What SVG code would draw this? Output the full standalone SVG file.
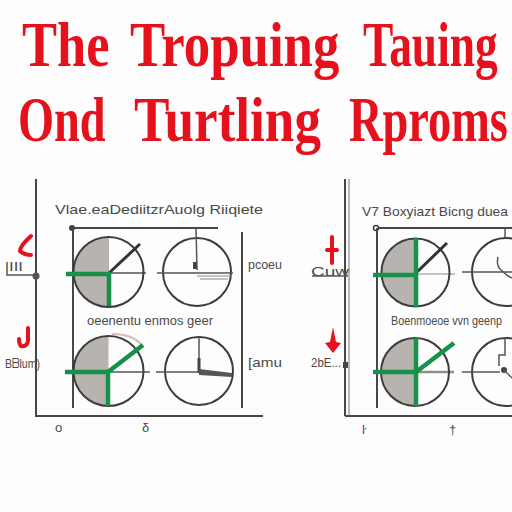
<svg xmlns="http://www.w3.org/2000/svg" width="512" height="512" viewBox="0 0 512 512">
<style>
.title{font-family:"Liberation Serif",serif;font-weight:bold;fill:#e5121d;font-size:64px}
.lbl{font-family:"Liberation Sans Narrow","Liberation Sans",sans-serif;fill:#4a4a4a;font-size:13px}
.ax{stroke:#474747;stroke-width:2;fill:none}
.thin{stroke:#555;stroke-width:1.5;fill:none}
.lt{stroke:#8a8a8a;stroke-width:1.2;fill:none}
.circ{fill:none;stroke:#3c3c3c;stroke-width:2}
.shade{fill:#b7b3ae}
.green{stroke:#17904a;stroke-width:4.5;fill:none}
.hand{stroke:#333;stroke-width:3;fill:none}
.red{stroke:#e5121d;fill:none;stroke-width:4;stroke-linecap:round}
</style>
<rect width="512" height="512" fill="#fdfdfd"/>
<g id="title">
<text class="title" transform="translate(22,66) scale(0.82,1)">The</text>
<text class="title" transform="translate(130,66) scale(0.825,1)">Tropuing</text>
<text class="title" transform="translate(363,66) scale(0.71,1)">Tauing</text>
<text class="title" transform="translate(18,141) scale(0.725,1)">Ond</text>
<text class="title" transform="translate(134,141) scale(0.83,1)">Turtling</text>
<text class="title" transform="translate(349,141) scale(0.725,1)">Rproms</text>
</g>
<g id="left-panel">
<line class="ax" x1="36" y1="179" x2="36" y2="416"/>
<line class="ax" x1="35" y1="416" x2="263" y2="416"/>
<circle cx="36" cy="276" r="3.5" fill="#555"/>
<path class="thin" d="M7,262 V275 H36"/>
<text class="lbl" x="9" y="271" font-size="11" textLength="14" lengthAdjust="spacingAndGlyphs">III</text>
<path class="red" d="M31,236 Q20,246 20,251 Q24,255 31,255" stroke-width="3.5"/>
<path class="red" d="M28,328 V341 Q27,347 21,346 Q19,344 19,339"/>
<text class="lbl" x="5" y="368" textLength="35" lengthAdjust="spacingAndGlyphs">Bᗷlum)</text>
<line class="ax" x1="72" y1="228" x2="218" y2="228"/>
<circle cx="72" cy="228" r="3" fill="#444"/>
<line class="ax" x1="73" y1="228" x2="73" y2="408"/>
<line class="ax" x1="242" y1="232" x2="242" y2="408"/>
<text class="lbl" x="55" y="214" font-size="14" textLength="208" lengthAdjust="spacingAndGlyphs">Vlae.eaDediitzrAuolg Riiqiete</text>
<text class="lbl" x="87" y="325" textLength="126" lengthAdjust="spacingAndGlyphs">oeenentu enmos geer</text>
<text class="lbl" x="248" y="269" textLength="34" lengthAdjust="spacingAndGlyphs">pcoeu</text>
<text class="lbl" x="248" y="367" textLength="34" lengthAdjust="spacingAndGlyphs">[amu</text>
<text class="lbl" x="55" y="432" font-size="15">o</text>
<text class="lbl" x="142" y="432" font-size="15">δ</text>
</g>
<g id="clock-L1">
<path class="shade" d="M109,237 A35,35 0 0 0 109,307 Z"/>
<line class="thin" x1="109" y1="273" x2="146" y2="273"/>
<circle class="circ" cx="108.5" cy="272" r="35"/>
<line class="hand" x1="109" y1="273" x2="140" y2="244"/>
<path class="green" d="M66,274 H111 M109,274 V306"/>
</g>
<g id="clock-L2">
<circle class="circ" cx="197" cy="272" r="34"/>
<line class="thin" x1="157" y1="273" x2="233" y2="273"/>
<path class="thin" d="M196,228 L197,270"/>
<rect x="193" y="262" width="4" height="7" fill="#444"/>
<path class="lt" d="M197,276 H232 M200,279 H228"/>
</g>
<g id="clock-L3">
<path class="shade" d="M108.5,336 A35,35 0 0 0 108.5,406 Z"/>
<path d="M112,334 Q132,334 141,344" stroke="#d8bcbc" stroke-width="2" fill="none"/>
<line class="thin" x1="108" y1="372" x2="150" y2="372"/>
<circle class="circ" cx="108.5" cy="371" r="35"/>
<path class="green" d="M65,372 H110 M108,372 V406 M108,372 L143,345"/>
</g>
<g id="clock-L4">
<circle class="circ" cx="199" cy="371" r="34"/>
<line class="thin" x1="156" y1="372" x2="199" y2="372"/>
<line class="thin" x1="199" y1="337" x2="199" y2="372"/>
<line x1="199" y1="358" x2="199" y2="373" stroke="#444" stroke-width="3"/>
<polygon points="199,369 232,373 232,377 199,375" fill="#555"/>
</g>
<g id="right-panel">
<line class="ax" x1="345" y1="179" x2="345" y2="416" stroke-width="1.5"/>
<line class="lt" x1="349" y1="179" x2="349" y2="416"/>
<line class="ax" x1="345" y1="416" x2="512" y2="416"/>
<path class="red" d="M332,237 V263 M327,250 H337" stroke-width="3.5" stroke-linecap="butt"/>
<text class="lbl" x="311" y="276" font-size="16" textLength="38" lengthAdjust="spacingAndGlyphs">Cuw</text>
<line class="thin" x1="312" y1="276" x2="348" y2="276"/>
<path d="M333,327 L336,342 L341,343 L333,353 L325,343 L330,342 Z" fill="#e5121d"/>
<text class="lbl" x="311" y="367" textLength="30" lengthAdjust="spacingAndGlyphs">2bE...</text>
<rect x="343" y="362" width="5" height="6" fill="#444"/>
<line class="ax" x1="376" y1="228" x2="512" y2="228" stroke-width="1.8"/>
<circle cx="376" cy="228" r="2.5" fill="#fff" stroke="#444" stroke-width="1.5"/>
<line class="ax" x1="377" y1="228" x2="377" y2="408"/>
<text class="lbl" x="362" y="216" textLength="146" lengthAdjust="spacingAndGlyphs">V7 Boxyiazt Bicng duea</text>
<text transform="translate(391,325) scale(0.83,1)" font-family="Liberation Sans, sans-serif" font-size="13" fill="#4a4a4a">Boenmoeoe vvn geenp</text>
<text class="lbl" x="362" y="434" font-size="15">ŀ</text>
<text class="lbl" x="449" y="434" font-size="15">†</text>
</g>
<g id="clock-R1">
<path class="shade" d="M415.5,238.5 A34,34 0 0 0 415.5,306.5 Z"/>
<line class="lt" x1="416" y1="274" x2="455" y2="274" stroke-width="2"/>
<circle class="circ" cx="415.5" cy="272.5" r="34"/>
<line class="hand" x1="416" y1="273" x2="447" y2="243"/>
<path class="green" d="M373,275 H418 M416,238 V307"/>
</g>
<g id="clock-R2">
<circle class="circ" cx="506" cy="272" r="34"/>
<line class="thin" x1="462" y1="272" x2="512" y2="272"/>
<line class="thin" x1="505" y1="228" x2="505" y2="238"/>
<path class="thin" d="M498,257 Q496,266 501,270 L508,276 L512,278"/>
</g>
<g id="clock-R3">
<path class="shade" d="M415,338 A34,34 0 0 0 415,406 Z"/>
<line x1="416" y1="372" x2="454" y2="372" stroke="#8f8f8f" stroke-width="2.5"/>
<circle class="circ" cx="415" cy="372" r="34"/>
<path class="green" d="M373,372 H418 M416,338 V406 M416,372 L454,343"/>
</g>
<g id="clock-R4">
<circle class="circ" cx="506" cy="372" r="34"/>
<line class="thin" x1="462" y1="372" x2="500" y2="372"/>
<path class="thin" d="M505,338 V355 H499 V366"/>
<circle cx="504" cy="370" r="3" fill="#444"/>
<line class="thin" x1="504" y1="370" x2="512" y2="378"/>
</g>
</svg>
